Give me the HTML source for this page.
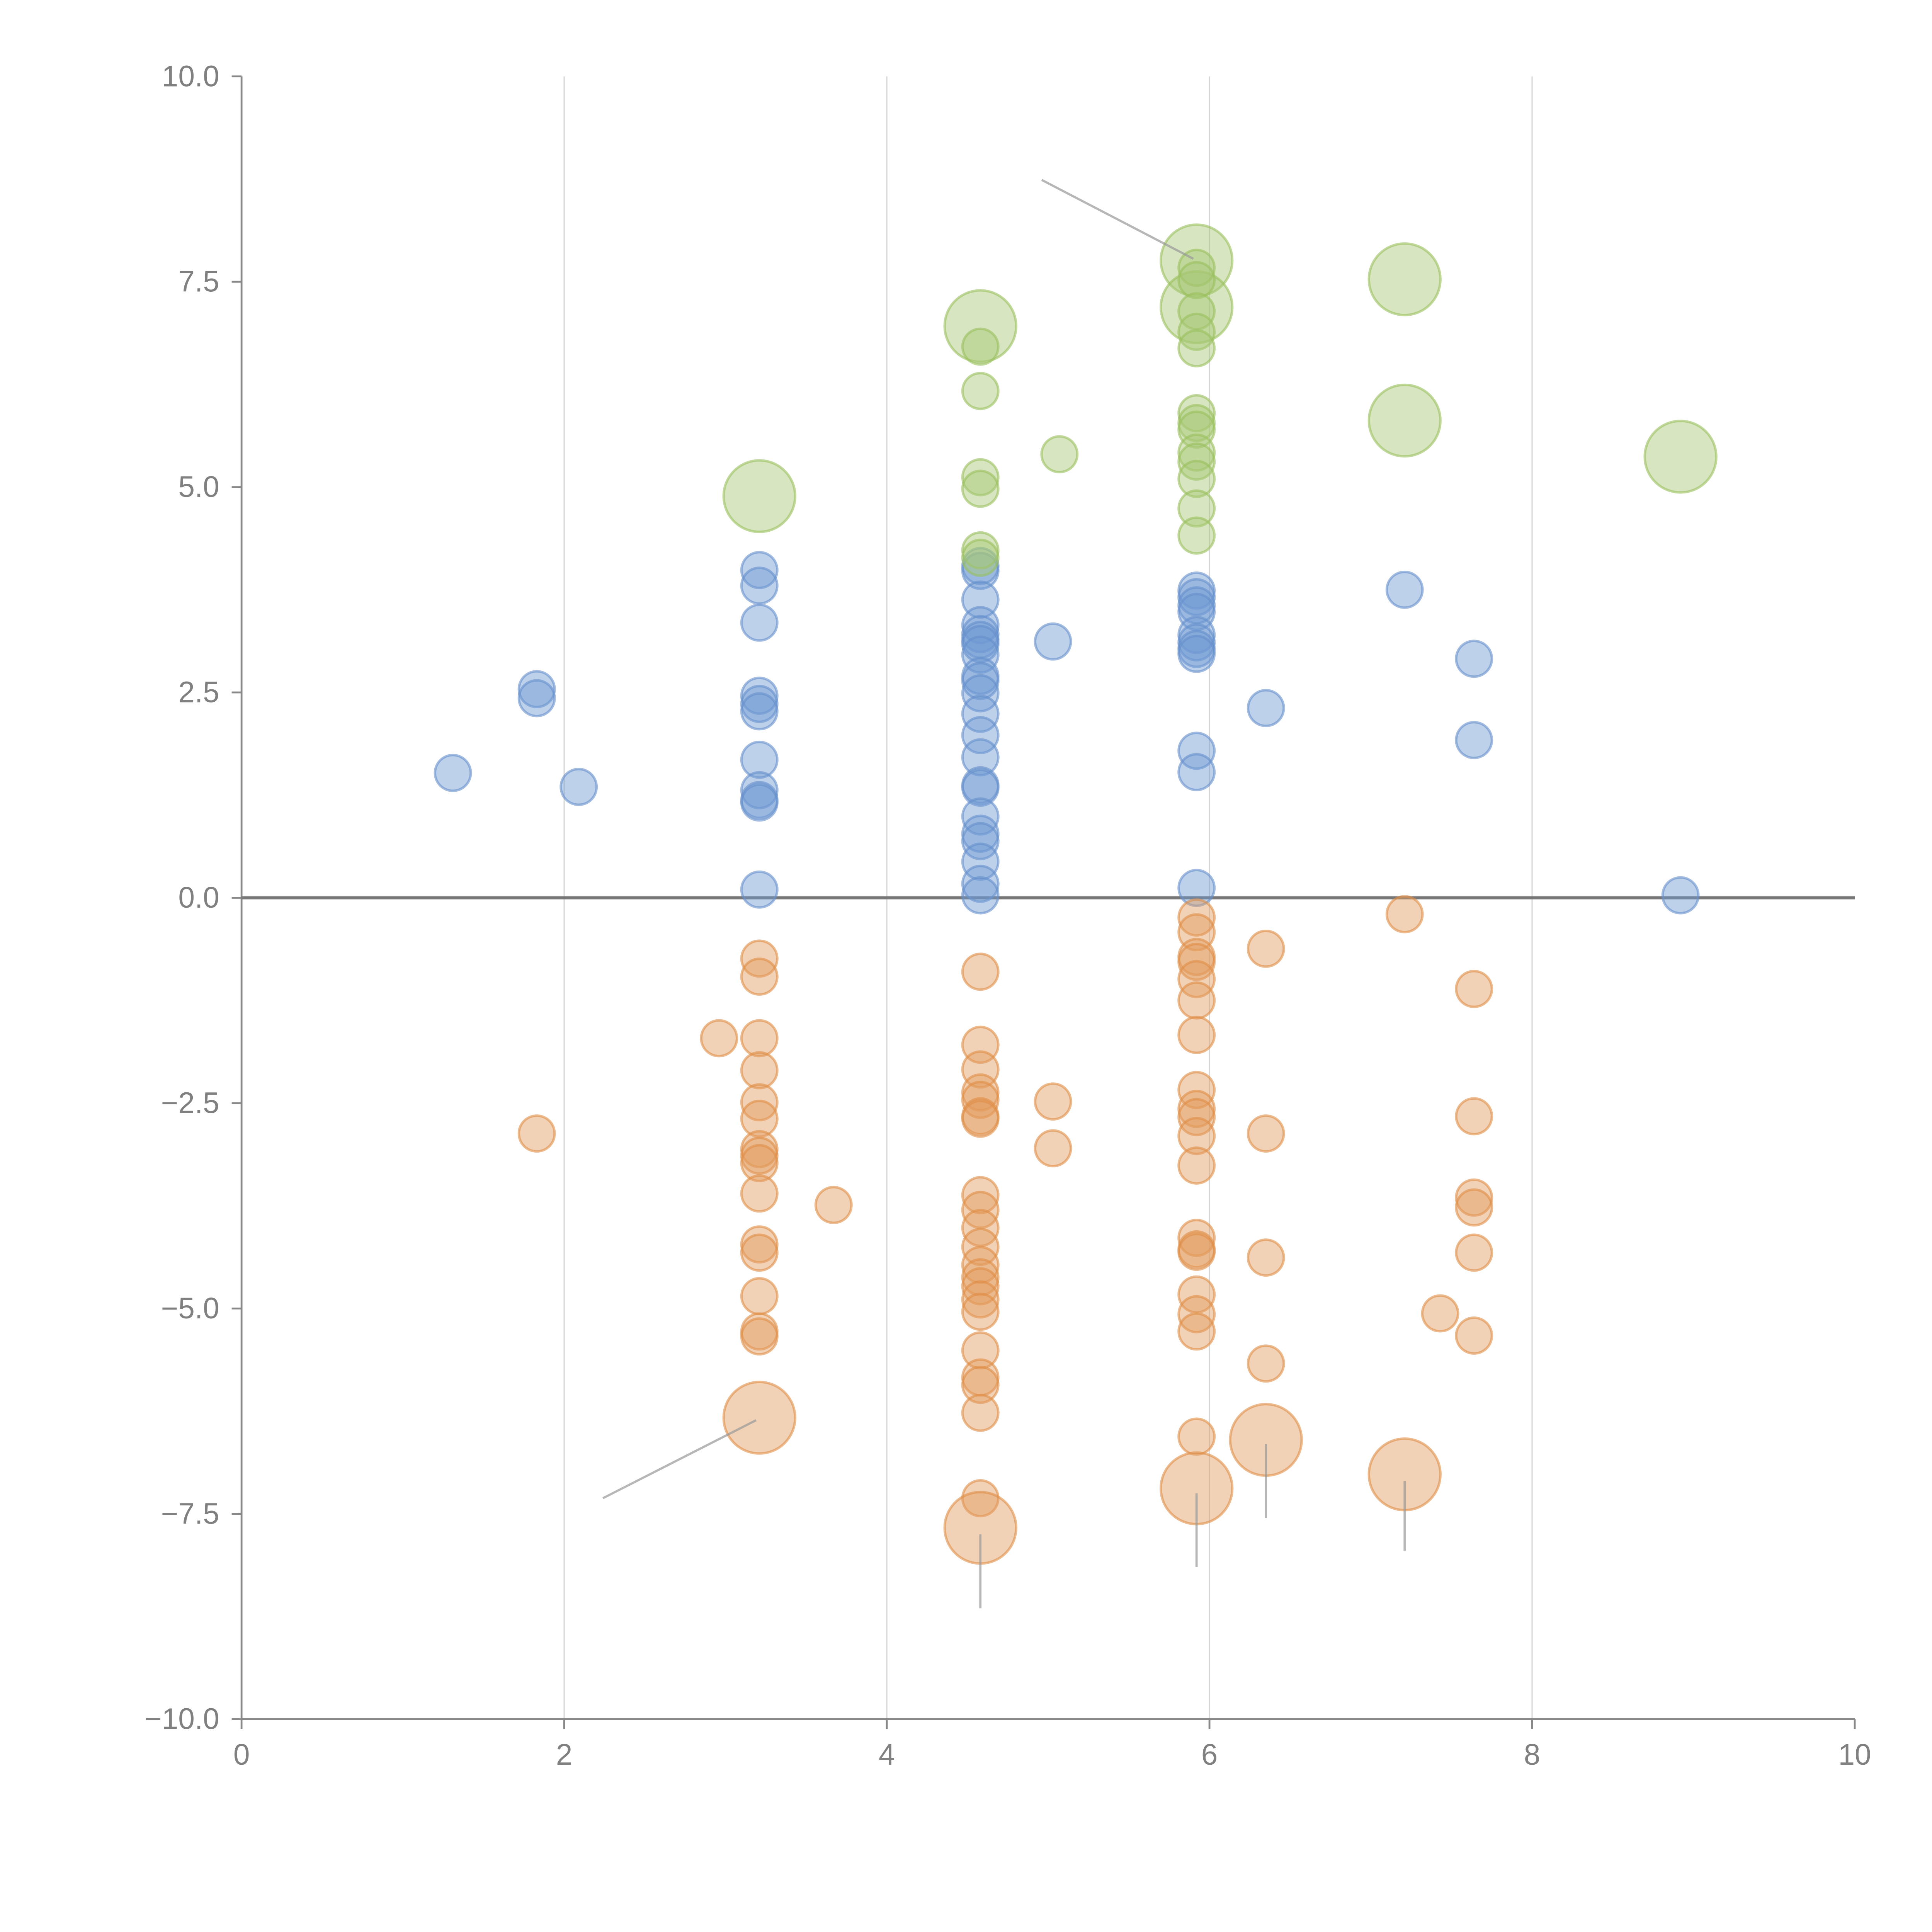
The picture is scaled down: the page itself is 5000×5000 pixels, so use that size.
<!DOCTYPE html>
<html><head><meta charset="utf-8"><style>html,body{margin:0;padding:0;background:#fff}svg{display:block}</style></head>
<body>
<svg id="chart" width="5000" height="5000" viewBox="0 0 1567.7 1567.7" xmlns="http://www.w3.org/2000/svg" font-family="Liberation Sans, sans-serif">
<g id="grid"></g>
<g id="axes"></g>
<g id="marks"></g>
<g id="annos"></g>
</svg>
<script>
const xTicks=[0,2,4,6,8,10];
const yTicks=[10,7.5,5,2.5,0,-2.5,-5,-7.5,-10];
const yTickLabels=["10.0","7.5","5.0","2.5","0.0","\u22122.5","\u22125.0","\u22127.5","\u221210.0"];
const blueX=[1.31,1.83,1.83,2.09,3.21,3.21,3.21,3.21,3.21,3.21,3.21,3.21,3.21,3.21,3.21,
4.58,4.58,4.58,4.58,4.58,4.58,4.58,4.58,4.58,4.58,4.58,4.58,4.58,4.58,4.58,4.58,4.58,4.58,4.58,4.58,4.58,4.58,
5.03,5.92,5.92,5.92,5.92,5.92,5.92,5.92,5.92,5.92,5.92,5.92,6.35,7.21,7.64,7.64,8.92];
const blueY=[1.52,2.54,2.43,1.35,3.99,3.80,3.35,2.46,2.36,2.27,1.68,1.31,1.19,1.16,0.10,
4.04,3.98,3.63,3.32,3.21,3.14,3.09,2.96,2.70,2.64,2.49,2.24,1.98,1.71,1.37,1.34,0.99,0.78,0.69,0.44,0.17,0.03,
3.12,3.74,3.66,3.56,3.48,3.20,3.11,3.03,2.97,1.79,1.53,0.12,2.31,3.75,2.91,1.92,0.03];
const orangeX=[1.83,2.96,3.21,3.21,3.21,3.21,3.21,3.21,3.21,3.21,3.21,3.21,3.21,3.21,3.21,3.21,3.21,3.21,3.67,
4.58,4.58,4.58,4.58,4.58,4.58,4.58,4.58,4.58,4.58,4.58,4.58,4.58,4.58,4.58,4.58,4.58,4.58,4.58,4.58,4.58,4.58,
5.03,5.03,5.92,5.92,5.92,5.92,5.92,5.92,5.92,5.92,5.92,5.92,5.92,5.92,5.92,5.92,5.92,5.92,5.92,5.92,5.92,5.92,
6.35,6.35,6.35,6.35,6.35,7.21,7.21,7.43,7.64,7.64,7.64,7.64,7.64,7.64];
const orangeY=[-2.87,-1.71,-0.74,-0.96,-1.71,-2.10,-2.49,-2.69,-3.06,-3.14,-3.23,-3.60,-4.22,-4.32,-4.85,-5.28,-5.34,-6.33,-3.74,
-0.90,-1.79,-2.09,-2.37,-2.46,-2.66,-2.69,-3.62,-3.80,-4.02,-4.25,-4.47,-4.62,-4.73,-4.89,-5.04,-5.51,-5.84,-5.93,-6.27,-7.31,-7.67,
-2.48,-3.05,-0.24,-0.42,-0.72,-0.78,-0.99,-1.25,-1.67,-2.34,-2.57,-2.67,-2.90,-3.26,-4.14,-4.28,-4.31,-4.83,-5.07,-5.28,-6.56,-7.19,
-0.62,-2.87,-4.38,-5.67,-6.60,-0.20,-7.02,-5.06,-1.11,-2.66,-3.65,-3.77,-4.32,-5.33];
const orangeSize=[1,1,1,1,1,1,1,1,1,1,1,1,1,1,1,1,1,4,1,
1,1,1,1,1,1,1,1,1,1,1,1,1,1,1,1,1,1,1,1,1,4,
1,1,1,1,1,1,1,1,1,1,1,1,1,1,1,1,1,1,1,1,1,4,
1,1,1,1,4,1,4,1,1,1,1,1,1,1];
const greenX=[3.21,4.58,4.58,4.58,4.58,4.58,4.58,4.58,5.07,5.92,5.92,5.92,5.92,5.92,5.92,5.92,5.92,5.92,5.92,5.92,5.92,5.92,5.92,5.92,7.21,7.21,8.92];
const greenY=[4.89,6.96,6.71,6.17,5.12,4.98,4.23,4.14,5.40,7.76,7.19,7.67,7.52,7.14,6.89,6.69,5.90,5.78,5.70,5.42,5.31,5.10,4.74,4.41,7.53,5.81,5.37];
const greenSize=[4,4,1,1,1,1,1,1,1,4,4,1,1,1,1,1,1,1,1,1,1,1,1,1,4,4,4];

const NS="http://www.w3.org/2000/svg";
const X0=196,X1=1505,Y0=1395,Y1=62;
function sx(v){return X0+(v-0)/(10-0)*(X1-X0);}
function sy(v){return Y0-(v+10)/20*(Y0-Y1);}
function mk(tag,attrs,parent){const e=document.createElementNS(NS,tag);for(const k in attrs)e.setAttribute(k,attrs[k]);parent.appendChild(e);return e;}
const grid=document.getElementById('grid'),axes=document.getElementById('axes'),marks=document.getElementById('marks'),annos=document.getElementById('annos');
xTicks.forEach(t=>{
 if(t>0&&t<10){const g=mk('line',{x1:sx(t),x2:sx(t),y1:Y1,y2:Y0,stroke:'#d8d8d8','stroke-width':1},grid);
 
 }
 const tk=mk('line',{x1:sx(t),x2:sx(t),y1:Y0,y2:Y0+8,stroke:'#888','stroke-width':1.5},axes);
 
 
 const tx=mk('text',{x:sx(t),y:Y0+37,'text-anchor':'middle','font-size':24,fill:'#808080'},axes);
 tx.textContent=String(t);
 
 
});
yTicks.forEach((t,i)=>{
 const tk=mk('line',{x1:X0-8,x2:X0,y1:sy(t),y2:sy(t),stroke:'#888','stroke-width':1.5},axes);
 
 
 const tx=mk('text',{x:X0-18,y:sy(t)+8,'text-anchor':'end','font-size':24,fill:'#808080'},axes);
 tx.textContent=yTickLabels[i];
 
 
});
let a=mk('line',{x1:X0,x2:X0,y1:Y1,y2:Y0,stroke:'#888','stroke-width':1.5},axes);


a=mk('line',{x1:X0,x2:X1,y1:Y0,y2:Y0,stroke:'#888','stroke-width':1.5},axes);


a=mk('line',{x1:X0,x2:X1,y1:sy(0),y2:sy(0),stroke:'#777','stroke-width':2.5},axes);



function series(xs,ys,sizes,fill,stroke,name){
 xs.forEach((x,i)=>{
  const s=sizes?sizes[i]:1;
  const c=mk('circle',{cx:sx(x),cy:sy(ys[i]),r:14.5*Math.sqrt(s),fill:fill,'fill-opacity':0.45,stroke:stroke,'stroke-opacity':0.6,'stroke-width':2},marks);
  
  
 });
}
series(blueX,blueY,null,'#6f98d2','#6690cb','blue-bubble');
series(orangeX,orangeY,orangeSize,'#e39c5e','#df8d46','orange-bubble');
series(greenX,greenY,greenSize,'#a6c874','#9abf5e','green-bubble');

const annoLines=[[4.96,8.74,5.90,7.78],[2.24,-7.31,3.19,-6.36],[4.58,-7.75,4.58,-8.65],[5.92,-7.25,5.92,-8.15],[6.35,-6.65,6.35,-7.55],[7.21,-7.1,7.21,-7.95]];
annoLines.forEach(l=>{
 const e=mk('line',{x1:sx(l[0]),y1:sy(l[1]),x2:sx(l[2]),y2:sy(l[3]),stroke:'#999','stroke-opacity':0.7,'stroke-width':1.8},annos);
 
 
});
</script>
</body></html>
